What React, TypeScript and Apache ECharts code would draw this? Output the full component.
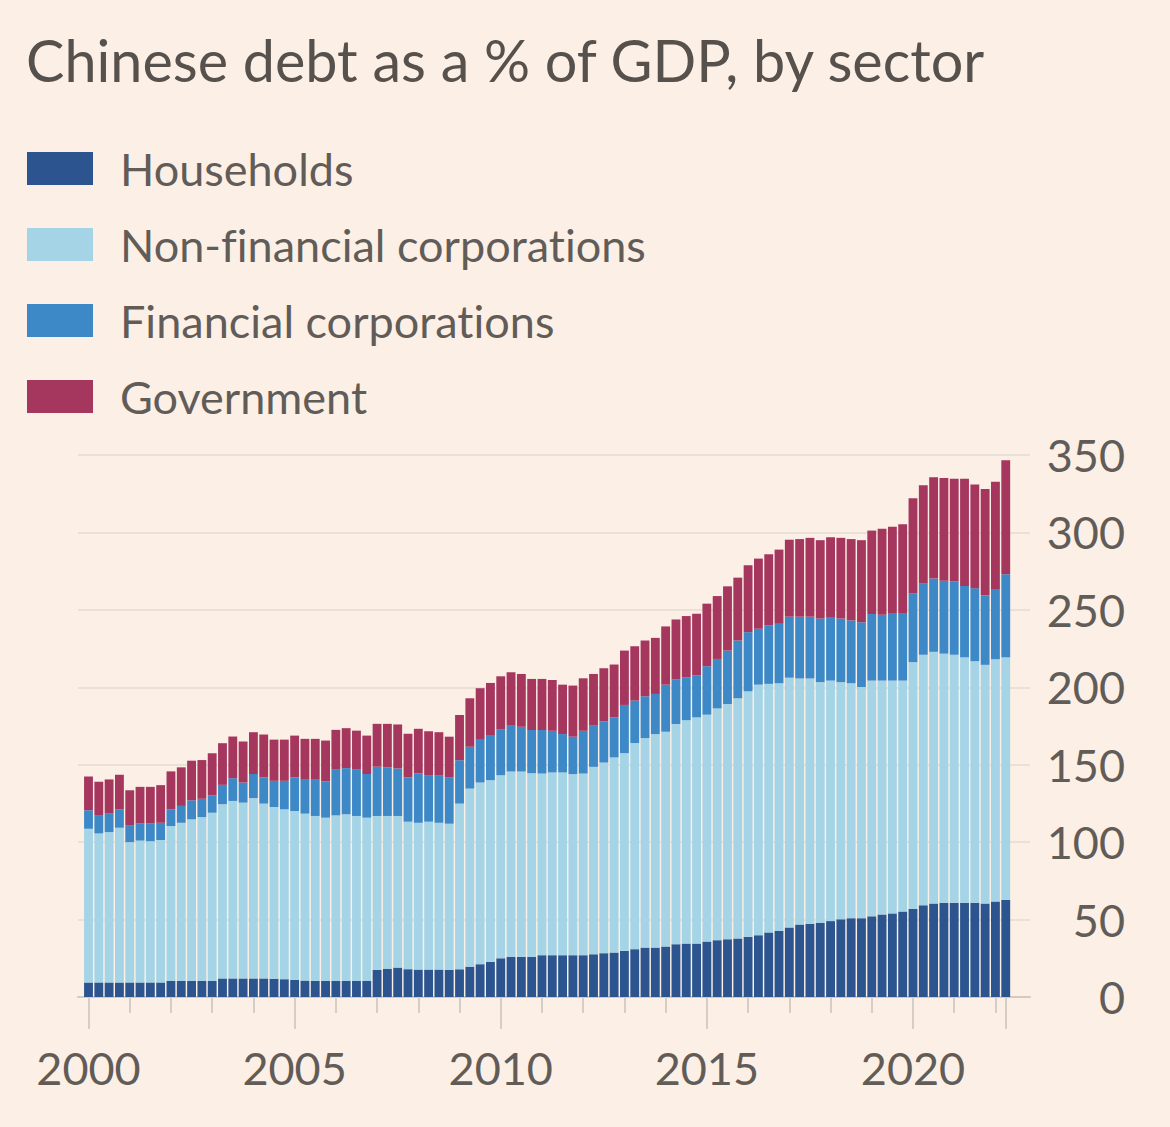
import React, { useEffect, useRef } from "react";
import * as echarts from "echarts";

const titleText = "Chinese debt as a % of GDP, by sector";
const seriesNames = ["Households", "Non-financial corporations", "Financial corporations", "Government"];
const seriesColors = ["#2c5590", "#a6d4e7", "#3d89c8", "#a5365e"];

// quarterly categories 2000 Q1 .. 2022 Q2
const years = [2000, 2001, 2002, 2003, 2004, 2005, 2006, 2007, 2008, 2009, 2010, 2011, 2012, 2013, 2014, 2015, 2016, 2017, 2018, 2019, 2020, 2021, 2022];
const quarterNames = ["Q1", "Q2", "Q3", "Q4"];
const categories: string[] = [];
years.forEach((y) => quarterNames.forEach((q) => categories.push(`${y} ${q}`)));
categories.splice(90);

const yMin = 0;
const yMax = 350;
const yStep = 50;

const households = [
  9.4, 9.4, 9.4, 9.4, 9.4, 9.4, 9.4, 9.4, 10.4, 10.4, 10.4, 10.4,
  10.4, 12.0, 12.0, 12.0, 12.0, 12.0, 11.8, 11.5, 11.0, 10.6, 10.4, 10.4,
  10.4, 10.4, 10.4, 10.4, 17.5, 18.3, 19.0, 18.0, 17.7, 17.7, 17.7, 17.5,
  17.9, 19.6, 21.2, 22.7, 25.0, 25.9, 25.9, 25.9, 27.0, 27.0, 27.0, 27.0,
  27.0, 27.6, 28.3, 28.7, 29.8, 30.9, 31.9, 31.9, 32.6, 34.1, 34.5, 34.5,
  35.8, 36.7, 37.3, 37.8, 38.9, 39.9, 41.7, 42.7, 44.9, 46.8, 47.3, 48.0,
  49.0, 50.2, 50.9, 50.9, 52.1, 53.3, 54.0, 55.2, 56.9, 59.2, 60.4, 60.9,
  60.9, 60.9, 60.9, 60.4, 61.6, 62.8,
];

const nonFinancial = [
  99.3, 96.2, 97.1, 99.9, 90.6, 91.6, 91.2, 91.9, 100.0, 102.1, 104.3, 105.8,
  108.6, 112.5, 114.6, 113.5, 116.4, 112.9, 110.9, 109.7, 109.1, 107.8, 106.5, 105.4,
  106.9, 107.6, 106.5, 105.4, 99.4, 98.6, 97.9, 95.2, 94.8, 95.5, 94.8, 94.4,
  107.0, 115.0, 117.3, 117.3, 118.2, 119.7, 119.7, 118.6, 117.3, 118.0, 118.0, 116.9,
  117.3, 121.0, 123.1, 126.0, 127.7, 133.1, 135.3, 137.9, 138.7, 142.2, 144.3, 146.1,
  146.5, 149.7, 151.9, 155.1, 158.5, 161.8, 160.5, 159.9, 161.3, 158.9, 158.4, 155.3,
  155.3, 153.1, 151.7, 149.3, 152.2, 151.0, 150.3, 149.1, 159.3, 161.8, 162.5, 160.8,
  160.1, 158.4, 156.0, 154.1, 156.5, 156.5,
];

const financial = [
  11.9, 11.9, 11.9, 11.9, 11.0, 11.0, 11.4, 11.2, 10.8, 10.9, 12.3, 11.8,
  11.3, 12.5, 14.7, 13.0, 15.6, 16.9, 16.9, 18.4, 21.7, 21.9, 23.4, 23.4,
  29.9, 29.8, 29.9, 28.2, 31.8, 31.4, 30.7, 28.6, 31.9, 30.1, 30.8, 29.8,
  28.0, 27.0, 27.6, 28.7, 29.8, 29.6, 28.9, 27.9, 28.1, 26.9, 24.8, 24.2,
  27.6, 26.6, 26.6, 25.9, 31.1, 27.4, 27.0, 25.9, 30.4, 28.7, 27.7, 27.0,
  31.3, 31.9, 34.5, 37.3, 38.2, 36.1, 37.7, 38.4, 39.4, 39.9, 39.9, 41.1,
  40.6, 41.1, 40.6, 41.8, 43.0, 42.5, 43.2, 43.7, 44.4, 46.1, 47.3, 47.1,
  47.3, 46.1, 47.1, 44.7, 44.9, 53.7,
];

const government = [
  21.8, 21.5, 22.1, 22.3, 22.5, 23.7, 23.7, 24.3, 24.5, 24.9, 25.6, 25.0,
  27.1, 26.9, 26.9, 26.5, 27.0, 27.7, 26.6, 26.6, 27.0, 26.4, 26.4, 26.4,
  25.3, 25.8, 25.2, 24.8, 27.7, 28.1, 28.4, 28.2, 28.8, 28.3, 27.7, 26.4,
  29.2, 31.3, 33.3, 34.1, 34.1, 34.5, 34.1, 33.0, 33.0, 32.8, 31.9, 33.0,
  33.9, 33.4, 34.3, 34.1, 35.1, 35.1, 36.0, 36.2, 37.6, 38.8, 39.5, 39.9,
  40.4, 40.6, 41.5, 40.6, 43.2, 45.3, 46.0, 47.9, 49.7, 50.1, 50.9, 50.6,
  52.0, 52.1, 52.5, 53.0, 53.9, 55.6, 56.1, 57.3, 61.4, 63.3, 65.4, 66.4,
  66.4, 69.3, 66.9, 68.8, 69.8, 73.6,
];

const seriesData = [households, nonFinancial, financial, government];

const BG = "#fcf0e6";
const FONT = 'Lato, "Noto Sans", sans-serif';
const TEXT = "#625c58";

export default function App() {
  const ref = useRef<HTMLDivElement>(null);

  useEffect(() => {
    if (!ref.current) return;
    const chart = echarts.init(ref.current, null, { renderer: "svg" });

    const barGrid = { left: 83.35, right: 159.1, top: 455, bottom: 130 };
    const option: any = {
      animation: false,
      backgroundColor: BG,
      textStyle: { fontFamily: FONT },
      title: {
        text: titleText,
        left: 26,
        top: 30,
        padding: 0,
        textStyle: { fontFamily: FONT, fontSize: 57.5, fontWeight: "normal", color: "#57514d" },
      },
      legend: {
        orient: "vertical",
        left: 27,
        top: 146,
        padding: 0,
        icon: "rect",
        itemWidth: 66,
        itemHeight: 33,
        itemGap: 31,
        selectedMode: false,
        data: seriesNames,
        textStyle: {
          fontFamily: FONT,
          fontSize: 45,
          color: TEXT,
          lineHeight: 33,
          padding: [0, 0, 0, 22],
        },
      },
      grid: [
        { ...barGrid },
        { left: 78, right: 140, top: 455, bottom: 130 },
        { ...barGrid },
      ],
      xAxis: [
        {
          type: "category",
          gridIndex: 0,
          data: categories,
          axisLine: { show: false },
          axisTick: {
            show: true,
            alignWithLabel: true,
            interval: (i: number) => i % 4 === 0,
            length: 16,
            lineStyle: { color: "#d6cdc6", width: 2 },
          },
          axisLabel: { show: false },
        },
        {
          type: "value",
          gridIndex: 1,
          min: 0,
          max: 1,
          axisLine: { show: true, lineStyle: { color: "#d3cac3", width: 2 } },
          axisTick: { show: false },
          axisLabel: { show: false },
          splitLine: { show: false },
        },
        {
          type: "category",
          gridIndex: 2,
          data: categories,
          axisLine: { show: false },
          axisTick: {
            show: true,
            alignWithLabel: true,
            interval: (i: number) => i % 20 === 0 || i === categories.length - 1,
            length: 32,
            lineStyle: { color: "#d6cdc6", width: 2 },
          },
          axisLabel: {
            show: true,
            interval: (i: number) => i % 20 === 0,
            formatter: (v: string) => v.slice(0, 4),
            fontFamily: FONT,
            fontSize: 45,
            color: TEXT,
            margin: 48,
          },
        },
      ],
      yAxis: [
        { type: "value", gridIndex: 0, min: yMin, max: yMax, interval: yStep, show: false },
        {
          type: "value",
          gridIndex: 1,
          position: "right",
          min: yMin,
          max: yMax,
          interval: yStep,
          axisLine: { show: false },
          axisTick: { show: false },
          splitLine: { show: true, lineStyle: { color: "#e9e0d8", width: 2 } },
          axisLabel: {
            align: "right",
            margin: 95,
            fontFamily: FONT,
            fontSize: 45,
            color: TEXT,
          },
        },
        { type: "value", gridIndex: 2, min: yMin, max: yMax, interval: yStep, show: false },
      ],
      series: seriesNames.map((name, k) => ({
        name,
        type: "bar",
        xAxisIndex: 0,
        yAxisIndex: 0,
        stack: "debt",
        data: seriesData[k],
        barCategoryGap: "14%",
        itemStyle: { color: seriesColors[k] },
        z: 3,
      })),
    };

    chart.setOption(option);
    return () => chart.dispose();
  }, []);

  return (
    <div
      ref={ref}
      style={{
        position: "absolute",
        left: 0,
        top: 0,
        width: 1170,
        height: 1127,
        background: BG,
        fontVariantLigatures: "none",
        fontFeatureSettings: '"liga" 0, "clig" 0',
      }}
    />
  );
}
